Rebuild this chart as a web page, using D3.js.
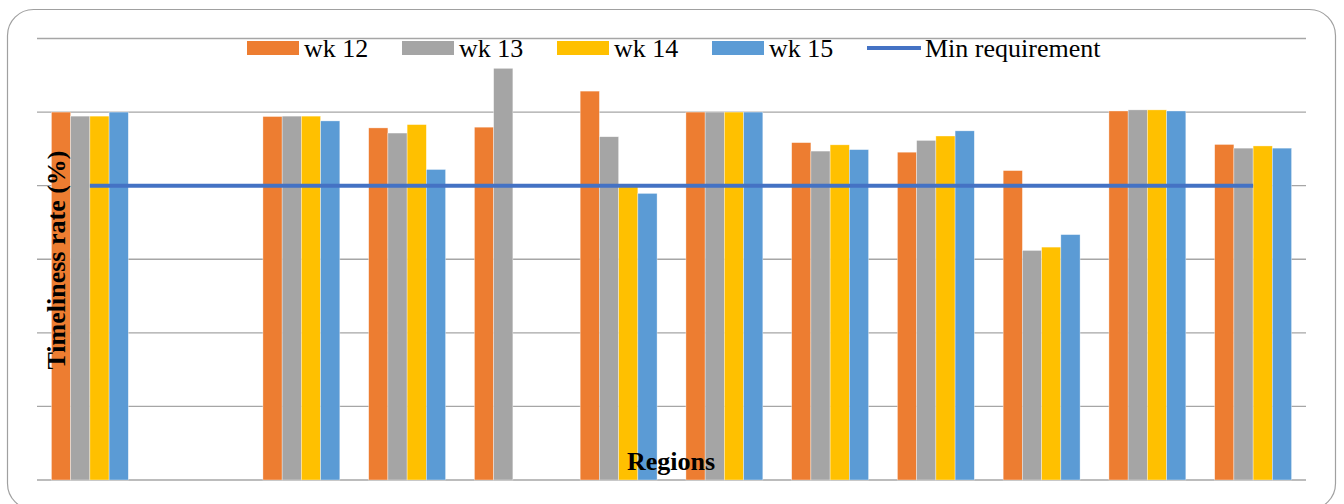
<!DOCTYPE html>
<html>
<head>
<meta charset="utf-8">
<script src="https://cdn.jsdelivr.net/npm/d3@7"></script>
<style>
  html, body { margin: 0; padding: 0; background: #fff; }
  svg { display: block; }
  text { font-family: "Times New Roman", "Liberation Serif", serif; fill: #000; }
</style>
</head>
<body>
<svg id="chart" width="1344" height="504"></svg>
<script>
// Regions (category labels are not printed on the axis)
const categories = ["R1", "R2", "R3", "R4", "R5", "R6", "R7", "R8", "R9", "R10", "R11", "R12"];

// Weekly timeliness rate (%) per region; null = no report
const seriesNames = ["wk 12", "wk 13", "wk 14", "wk 15"];
const wk12 = [100, null, 98.8, 95.7, 95.9, 105.7, 100, 91.7, 89.1, 84.1, 100.3, 91.2];
const wk13 = [98.9, null, 98.9, 94.3, 111.9, 93.3, 100, 89.4, 92.3, 62.4, 100.6, 90.2];
const wk14 = [98.9, null, 98.9, 96.6, null, 79.7, 100, 91.1, 93.5, 63.3, 100.6, 90.8];
const wk15 = [100, null, 97.6, 84.4, null, 77.9, 100, 89.8, 94.9, 66.7, 100.3, 90.2];

// Minimum required timeliness rate (%)
const minRequirement = 80;
const minLabel = "Min requirement";

// Value axis
const yTicks = [0, 20, 40, 60, 80, 100, 120];

const seriesValues = [wk12, wk13, wk14, wk15];
const colors = ["#ed7d31", "#a5a5a5", "#ffc000", "#5b9bd5"];
const lineColor = "#4472c4";

const svg = d3.select("#chart");

// Outer frame
svg.append("rect")
  .attr("x", 7.5).attr("y", 9.5)
  .attr("width", 1328).attr("height", 500)
  .attr("rx", 26).attr("ry", 26)
  .attr("fill", "#fff")
  .attr("stroke", "#a0a0a0")
  .attr("stroke-width", 1.2);

const plot = { left: 37, right: 1306, top: 38.5, bottom: 480 };

const x = d3.scaleBand()
  .domain(categories)
  .range([plot.left, plot.right])
  .paddingInner(0).paddingOuter(0);

// 150% gap between groups: 4 bars + 1.5 bar widths per band
const unit = x.bandwidth() / 5.5;
const xSub = d3.scaleBand()
  .domain(seriesNames)
  .range([unit * 0.75, unit * 4.75])
  .padding(0);

const y = d3.scaleLinear()
  .domain([0, 120])
  .range([plot.bottom, plot.top]);

// Horizontal gridlines
svg.append("g")
  .selectAll("line")
  .data(yTicks)
  .join("line")
  .attr("x1", plot.left).attr("x2", plot.right)
  .attr("y1", d => y(d)).attr("y2", d => y(d))
  .attr("stroke", "#a6a6a6")
  .attr("stroke-width", 1.3);

// Bars
const rows = [];
categories.forEach((c, i) => {
  seriesNames.forEach((s, j) => {
    const v = seriesValues[j][i];
    if (v != null) rows.push({ c, s, v, color: colors[j] });
  });
});

svg.append("g")
  .selectAll("rect")
  .data(rows)
  .join("rect")
  .attr("x", d => x(d.c) + xSub(d.s))
  .attr("width", xSub.bandwidth())
  .attr("y", d => y(d.v))
  .attr("height", d => y(0) - y(d.v))
  .attr("fill", d => d.color)
  .attr("stroke", "#ffffff")
  .attr("stroke-opacity", 0.6)
  .attr("stroke-width", 0.6);

// Minimum requirement line across category centres
const linePts = categories.map(c => [x(c) + x.bandwidth() / 2, y(minRequirement)]);
svg.append("path")
  .attr("d", d3.line()([linePts[0], linePts[linePts.length - 1]]))
  .attr("stroke", lineColor)
  .attr("stroke-width", 4)
  .attr("fill", "none");

// Legend
const legend = svg.append("g");
const legendStart = 247, legendStep = 155, legendY = 41;
seriesNames.forEach((s, j) => {
  const lx = legendStart + j * legendStep;
  legend.append("rect")
    .attr("x", lx).attr("y", legendY)
    .attr("width", 52).attr("height", 14)
    .attr("fill", colors[j]);
  legend.append("text")
    .attr("x", lx + 57).attr("y", 57)
    .attr("font-size", 26)
    .text(s);
});
const lineLegendX = legendStart + 4 * legendStep;
legend.append("line")
  .attr("x1", lineLegendX).attr("x2", lineLegendX + 54)
  .attr("y1", 48).attr("y2", 48)
  .attr("stroke", lineColor)
  .attr("stroke-width", 4);
legend.append("text")
  .attr("x", lineLegendX + 58).attr("y", 57)
  .attr("font-size", 26)
  .text(minLabel);

// Axis titles
svg.append("text")
  .attr("transform", "translate(65,260) rotate(-90)")
  .attr("text-anchor", "middle")
  .attr("font-size", 26)
  .attr("font-weight", "bold")
  .text("Timeliness rate (%)");

svg.append("text")
  .attr("x", 671).attr("y", 470)
  .attr("text-anchor", "middle")
  .attr("font-size", 26)
  .attr("font-weight", "bold")
  .text("Regions");
</script>
</body>
</html>
